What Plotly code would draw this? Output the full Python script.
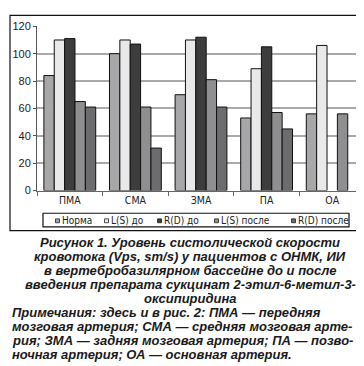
import plotly.graph_objects as go

categories = ["ПМА", "СМА", "ЗМА", "ПА", "ОА"]
series_names = ["Норма", "L(S) до", "R(D) до", "L(S) после", "R(D) после"]
norma = [84, 100, 70, 53, 56]
ls_do = [110, 110, 110, 89, 106]
rd_do = [111, 107, 112, 105, None]
ls_posle = [65, 61, 81, 57, 56]
rd_posle = [61, 31, 61, 45, None]
y_ticks = [0, 20, 40, 60, 80, 100, 120]

caption_lines = [
    "Рисунок 1. Уровень систолической скорости",
    "кровотока (Vps, sm/s) у пациентов с ОНМК, ИИ",
    "в вертебробазилярном бассейне до и после",
    "введения препарата сукцинат 2-этил-6-метил-3-",
    "оксипиридина",
]
note_lines = [
    "Примечания: здесь и в рис. 2: ПМА — передняя",
    "мозговая артерия; СМА — средняя мозговая арте-",
    "рия; ЗМА — задняя мозговая артерия; ПА — позво-",
    "ночная артерия; ОА — основная артерия.",
]

colors = ["#a7a7a9", "#e9e9e9", "#3d3d3d", "#8f8f91", "#6c6c6e"]
values = [norma, ls_do, rd_do, ls_posle, rd_posle]

W, H = 364, 366
NARROW = "Liberation Sans Narrow, Arial Narrow, DejaVu Sans Condensed, Liberation Sans, sans-serif"
fig = go.Figure()
for name, vals, col in zip(series_names, values, colors):
    fig.add_trace(go.Bar(
        x=categories, y=vals, name=name,
        marker=dict(color=col, line=dict(color="#111111", width=1)),
    ))

fig.update_layout(
    width=W, height=H,
    margin=dict(l=0, r=0, t=0, b=0),
    paper_bgcolor="white", plot_bgcolor="white",
    barmode="group", bargap=0.21, bargroupgap=0,
    font=dict(family="Liberation Sans, Arial, sans-serif", size=11, color="#222"),
    showlegend=False,
    xaxis=dict(
        domain=[29 / W, 357 / W],
        showline=True, linecolor="#666", linewidth=1,
        ticks="outside", ticklen=4, tickcolor="#666", tickson="boundaries",
        tickfont=dict(size=10.5, family=NARROW),
    ),
    yaxis=dict(
        domain=[1 - 182.5 / H, 1 - 12.7 / H],
        range=[0, 120], tickvals=y_ticks,
        showline=True, linecolor="#555", linewidth=1,
        ticks="outside", ticklen=3, tickcolor="#555",
        showgrid=True, gridcolor="#a9a9a9", gridwidth=1.5,
        zeroline=False,
        tickfont=dict(size=11),
    ),
)

# outer frame of the chart
fig.add_shape(type="rect", xref="paper", yref="paper",
              x0=2 / W, x1=361 / W, y0=1 - 224 / H, y1=1 - 1.5 / H,
              line=dict(color="#111", width=1.2), layer="below")

# legend box (manual, compact like the original)
fig.add_shape(type="rect", xref="paper", yref="paper",
              x0=35 / W, x1=341 / W, y0=1 - 220 / H, y1=1 - 206 / H,
              line=dict(color="#111", width=1.2), fillcolor="white")
legend_x = [47.5, 96.5, 149.5, 206.5, 283.5]
ly = 213.3
for name, col, lx in zip(series_names, colors, legend_x):
    fig.add_shape(type="rect", xref="paper", yref="paper",
                  x0=lx / W, x1=(lx + 4) / W, y0=1 - (ly + 2.5) / H, y1=1 - (ly - 1.5) / H,
                  line=dict(color="#222", width=0.8), fillcolor=col)
    fig.add_annotation(text=name, xref="paper", yref="paper",
                       x=(lx + 4.5) / W, xanchor="left", y=1 - ly / H, yanchor="middle",
                       showarrow=False, font=dict(size=10, family=NARROW, color="#222"))

cap_font = dict(family="Liberation Sans, Arial, sans-serif", size=13, color="#1a1a1a")
line_h = 14.4
y0 = 236.7
for i, t in enumerate(caption_lines):
    fig.add_annotation(text="<b><i>" + t + "</i></b>", xref="paper", yref="paper",
                       x=0.5, xanchor="center", y=1 - (y0 + i * line_h) / H, yanchor="middle",
                       showarrow=False, font=cap_font)
for j, t in enumerate(note_lines):
    i = len(caption_lines) + j
    fig.add_annotation(text="<b><i>" + t + "</i></b>", xref="paper", yref="paper",
                       x=2 / W, xanchor="left", y=1 - (y0 + i * line_h) / H, yanchor="middle",
                       showarrow=False, font=cap_font)

fig.write_html("out.html")
